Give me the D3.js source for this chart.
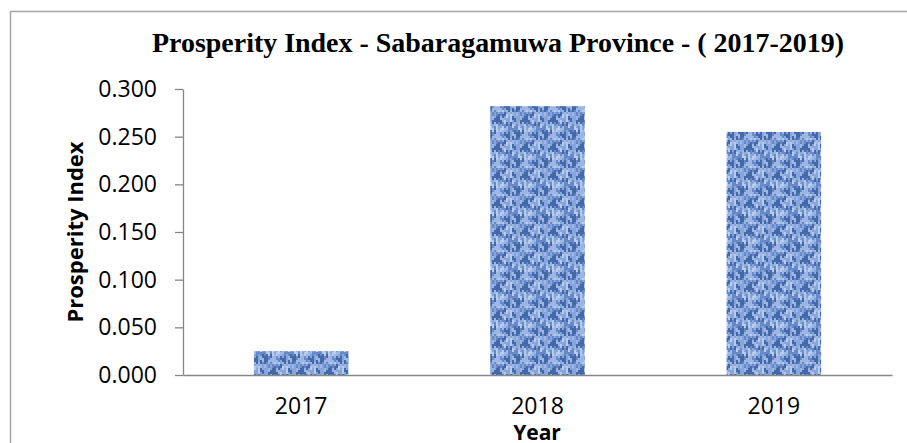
<!DOCTYPE html>
<meta charset="utf-8">
<head>
  <title>Prosperity Index - Sabaragamuwa Province</title>
  <script src="https://cdnjs.cloudflare.com/ajax/libs/d3/7.8.5/d3.min.js"></script>
</head>
<style>
  body {
    margin: 0;
    background: white;
  }
  .axis text {
    font-family: "Open Sans";
    font-size: 23px;
    fill: black;
  }
</style>
<body>
<div id="chart"></div>
<script>
  var years = ["2017", "2018", "2019"];
  var values = [0.025, 0.282, 0.255];
  var yTicks = [0, 0.05, 0.1, 0.15, 0.2, 0.25, 0.3];

  var WIDTH = 907, HEIGHT = 443;

  var svg = d3.select("#chart").append("svg")
    .attr("width", WIDTH)
    .attr("height", HEIGHT);

  // woven blue texture for the bars
  var shades = ["#34599b", "#5f82c2", "#86a5da", "#a3bce7", "#c3d5f2"];
  var pat = svg.append("defs").append("pattern")
    .attr("id", "weave")
    .attr("patternUnits", "userSpaceOnUse")
    .attr("width", 28)
    .attr("height", 28);
  pat.append("rect").attr("width", 28).attr("height", 28).attr("fill", "#86a5da");
  for (var i = 0; i < 14; i++) {
    for (var j = 0; j < 7; j++) {
      var k = (i * 3 + j * 7 + (i * j) % 4 + (i % 3)) % 5;
      pat.append("rect")
        .attr("x", i * 2)
        .attr("y", j * 4 + (i % 2) * 2)
        .attr("width", 2)
        .attr("height", 4)
        .attr("fill", shades[k])
        .attr("opacity", 0.8);
    }
  }

  // outer frame
  svg.append("path")
    .attr("d", "M10.5," + HEIGHT + "V11.5H" + WIDTH)
    .attr("fill", "none")
    .attr("stroke", "#a6a6a6")
    .attr("stroke-width", 1.5);

  var x = d3.scaleBand()
    .domain(years)
    .range([183, 892])
    .paddingInner(0.6)
    .paddingOuter(0.3);

  var y = d3.scaleLinear()
    .domain([0, 0.3])
    .range([375, 89]);

  svg.selectAll(".bar")
    .data(values)
    .enter().append("rect")
    .attr("class", "bar")
    .attr("x", function(d, i) { return x(years[i]); })
    .attr("y", function(d) { return y(d); })
    .attr("width", x.bandwidth())
    .attr("height", function(d) { return y(0) - y(d); })
    .attr("fill", "url(#weave)");

  var yAxis = svg.append("g")
    .attr("class", "axis")
    .attr("transform", "translate(183,0)")
    .call(d3.axisLeft(y).tickValues(yTicks).tickFormat(d3.format(".3f"))
      .tickSize(8).tickSizeOuter(0).tickPadding(18));

  var xAxis = svg.append("g")
    .attr("class", "axis")
    .attr("transform", "translate(0,375)")
    .call(d3.axisBottom(x).tickSize(0).tickSizeOuter(0).tickPadding(23));

  svg.selectAll(".axis path, .axis line")
    .attr("stroke", "#868686")
    .attr("stroke-width", 1.3);

  // titles
  svg.append("text")
    .attr("x", 152)
    .attr("y", 52)
    .attr("textLength", 692)
    .attr("lengthAdjust", "spacingAndGlyphs")
    .style("font-family", "Liberation Serif")
    .style("font-weight", "bold")
    .style("font-size", "28px")
    .text("Prosperity Index - Sabaragamuwa Province - ( 2017-2019)");

  svg.append("text")
    .attr("transform", "translate(83,232) rotate(-90)")
    .attr("text-anchor", "middle")
    .style("font-family", "Open Sans")
    .style("font-weight", "bold")
    .style("font-size", "22px")
    .text("Prosperity Index");

  svg.append("text")
    .attr("x", 537)
    .attr("y", 440)
    .attr("text-anchor", "middle")
    .style("font-family", "Open Sans")
    .style("font-weight", "bold")
    .style("font-size", "21px")
    .text("Year");
</script>
</body>
